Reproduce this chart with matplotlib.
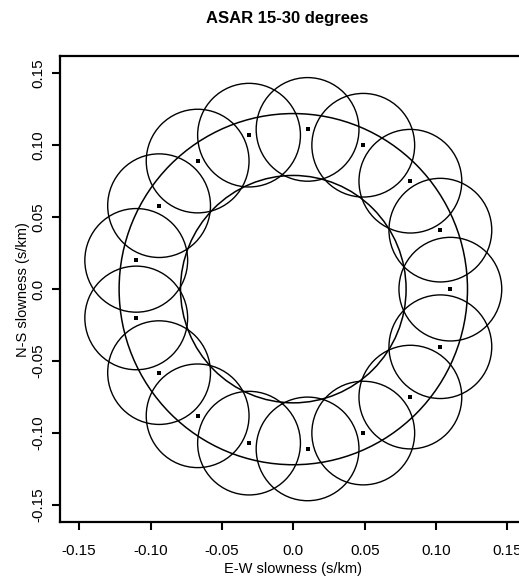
import numpy as np
import matplotlib
matplotlib.use('Agg')
import matplotlib.pyplot as plt
from matplotlib.patches import Circle

plt.rcParams['font.family'] = ['Liberation Sans', 'DejaVu Sans']

# beam centres on the slowness plane (s/km)
centre_x = [0.110, 0.103, 0.082, 0.049, 0.010, -0.031, -0.067, -0.094, -0.110,
            -0.110, -0.094, -0.067, -0.031, 0.010, 0.049, 0.082, 0.103]
centre_y = [0.000, 0.041, 0.075, 0.100, 0.111, 0.107, 0.089, 0.058, 0.020,
            -0.020, -0.058, -0.088, -0.107, -0.111, -0.100, -0.075, -0.040]
beam_radius = 0.036
# slowness at 30 and 15 degrees
ring_radii = [0.079, 0.122]

xticks = [-0.15, -0.10, -0.05, 0.0, 0.05, 0.10, 0.15]
xtick_labels = ['-0.15', '-0.10', '-0.05', '0.0', '0.05', '0.10', '0.15']
yticks = [-0.15, -0.10, -0.05, 0.0, 0.05, 0.10, 0.15]
ytick_labels = ['-0.15', '-0.10', '-0.05', '0.0', '0.05', '0.10', '0.15']

W, H = 519, 578
fig = plt.figure(figsize=(W/100, H/100), dpi=100)
ax = fig.add_axes([60/W, 55.7/H, 466.6/W, 466.3/H])

for r in ring_radii:
    ax.add_patch(Circle((0, 0), r, fill=False, ec='black', lw=1.1))
for cx, cy in zip(centre_x, centre_y):
    ax.add_patch(Circle((cx, cy), beam_radius, fill=False, ec='black', lw=1.0))
ax.plot(centre_x, centre_y, 's', color='black', ms=2.2, mew=0)

ax.set_xlim(-0.1634, 0.1634)
ax.set_ylim(-0.162, 0.162)
ax.set_xticks(xticks)
ax.set_xticklabels(xtick_labels)
ax.set_yticks(yticks)
ax.set_yticklabels(ytick_labels)
plt.setp(ax.get_yticklabels(), rotation=90, va='center')

for s in ax.spines.values():
    s.set_linewidth(1.6)
ax.tick_params(direction='out', length=5.5, width=1.5, labelsize=11)
ax.tick_params(axis='x', pad=10)
ax.tick_params(axis='y', pad=5)

ax.set_xlabel('E-W slowness (s/km)', fontsize=10.5, labelpad=3)
ax.set_ylabel('N-S slowness (s/km)', fontsize=10.5, labelpad=1)
fig.text(287.5/W, 1 - 19/H, 'ASAR 15-30 degrees', ha='center', va='center',
         fontsize=12, fontweight='bold')

fig.savefig('out.png', dpi=100)
